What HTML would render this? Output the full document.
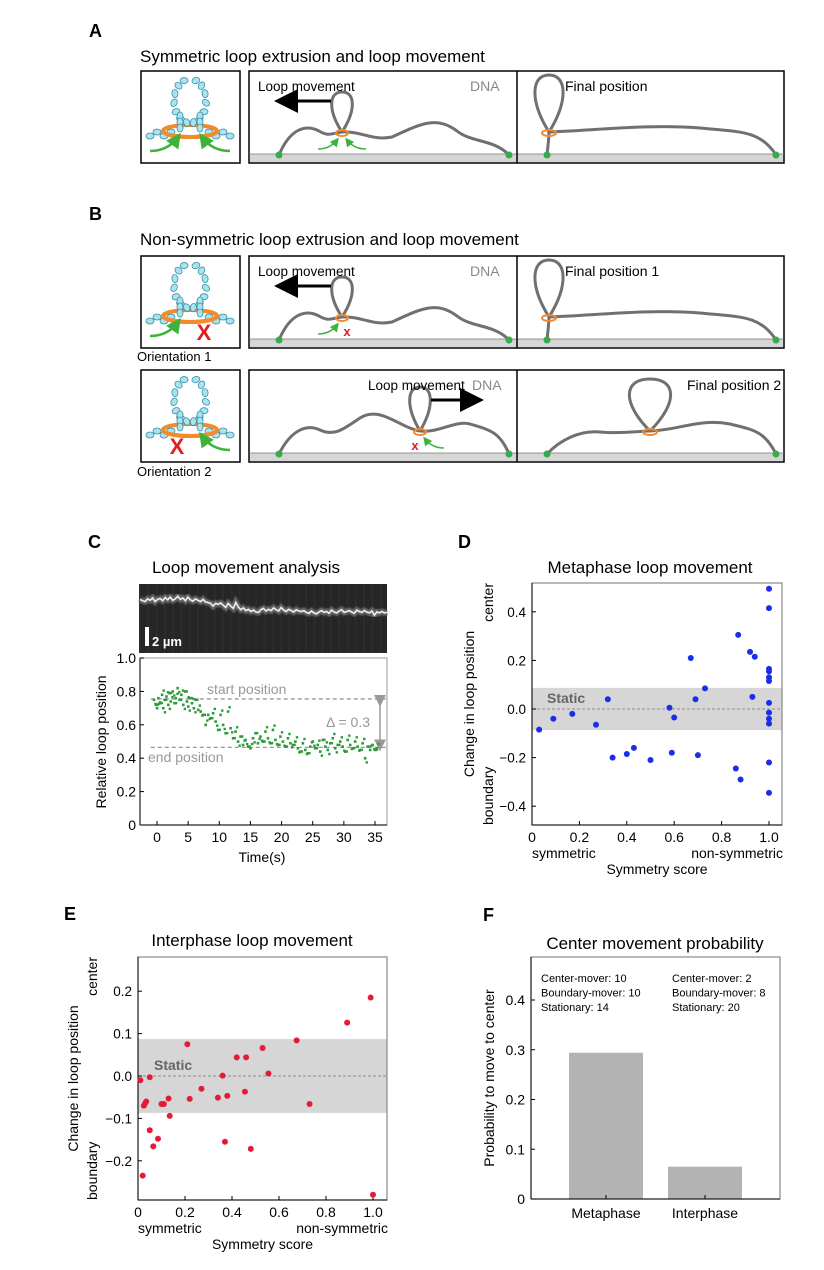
<!DOCTYPE html>
<html><head><meta charset="utf-8"><style>
body{margin:0;background:#fff;}
svg{display:block;font-family:"Liberation Sans",sans-serif;}
</style></head><body>
<svg id="fig" width="824" height="1270" viewBox="0 0 824 1270" xmlns="http://www.w3.org/2000/svg">
<defs>
<filter id="blur1"><feGaussianBlur stdDeviation="0.9"/></filter>
<marker id="ah" markerWidth="8" markerHeight="8" refX="6" refY="4" orient="auto"><path d="M0,0 L8,4 L0,8 z" fill="#000"/></marker>
<marker id="agh" markerWidth="6" markerHeight="6" refX="4" refY="3" orient="auto"><path d="M0,0 L6,3 L0,6 z" fill="#3cb43c"/></marker>
<marker id="agr" markerWidth="8" markerHeight="8" refX="4" refY="4" orient="auto"><path d="M0,0 L8,4 L0,8 z" fill="#999"/></marker>
</defs>
<g id="diagrams"></g>
<g id="panelC"></g>
<g id="panelD"></g>
<g id="panelE"></g>
<g id="panelF"></g>
</svg>
<script>
// ---- Panel C data ----
const cTimes = [-0.5,-0.2,0,0.2,0.5,0.8,1,1.2,1.5,1.8,2,2.2,2.5,2.8,3,3.3,3.6,3.9,4.2,4.5,4.8,5,5.3,5.6,5.9,6.2,6.6,7,7.4,7.8,8.2,8.6,9,9.4,9.8,10.2,10.6,11,11.4,11.8,12.2,12.6,13,13.4,13.8,14.2,14.6,15,15.4,15.8,16.2,16.6,17,17.4,17.8,18.2,18.6,19,19.4,19.8,20.2,20.6,21,21.4,21.8,22.2,22.6,23,23.4,23.8,24.2,24.6,25,25.4,25.8,26.2,26.6,27,27.4,27.8,28.2,28.6,29,29.4,29.8,30.2,30.6,31,31.4,31.8,32.2,32.6,33,33.4,33.8,34.2,34.6,35,35.3];
const cPos = [0.75,0.72,0.70,0.76,0.73,0.78,0.70,0.75,0.77,0.72,0.79,0.74,0.80,0.73,0.76,0.82,0.75,0.78,0.72,0.80,0.74,0.71,0.76,0.73,0.70,0.75,0.69,0.68,0.66,0.60,0.66,0.64,0.67,0.62,0.57,0.66,0.60,0.55,0.68,0.58,0.52,0.56,0.50,0.53,0.48,0.51,0.47,0.46,0.52,0.55,0.49,0.53,0.50,0.56,0.52,0.49,0.57,0.51,0.48,0.53,0.50,0.47,0.52,0.49,0.48,0.50,0.46,0.44,0.49,0.45,0.43,0.47,0.50,0.46,0.48,0.44,0.51,0.47,0.45,0.49,0.52,0.46,0.48,0.50,0.47,0.44,0.51,0.48,0.46,0.50,0.47,0.45,0.49,0.40,0.47,0.45,0.48,0.45,0.46];
const cYTicks = [0,0.2,0.4,0.6,0.8,1.0];
const cYTickLabels = ["0","0.2","0.4","0.6","0.8","1.0"];
const cXTicks = [0,5,10,15,20,25,30,35];
const cStart = 0.755, cEnd = 0.465;
// ---- Panel D data ----
const dScore = [0.03,0.09,0.17,0.27,0.32,0.34,0.40,0.43,0.50,0.58,0.59,0.60,0.67,0.69,0.70,0.73,0.86,0.87,0.88,0.92,0.93,0.94,1,1,1,1,1,1,1,1,1,1,1,1];
const dChange = [-0.085,-0.04,-0.02,-0.065,0.04,-0.2,-0.185,-0.16,-0.21,0.005,-0.18,-0.035,0.21,0.04,-0.19,0.085,-0.245,0.305,-0.29,0.235,0.05,0.215,0.495,0.415,0.165,0.155,0.13,0.115,0.025,-0.015,-0.04,-0.06,-0.22,-0.345];
const dYTicks = [-0.4,-0.2,0,0.2,0.4];
const dYTickLabels = ["\u22120.4","\u22120.2","0.0","0.2","0.4"];
const xTicksSym = [0,0.2,0.4,0.6,0.8,1.0];
const xTickLabelsSym = ["0","0.2","0.4","0.6","0.8","1.0"];
// ---- Panel E data ----
const eScore = [0.01,0.02,0.025,0.03,0.035,0.05,0.05,0.065,0.085,0.10,0.11,0.13,0.135,0.21,0.22,0.27,0.34,0.36,0.37,0.38,0.42,0.455,0.46,0.48,0.53,0.555,0.675,0.73,0.89,0.99,1.0];
const eChange = [-0.01,-0.235,-0.07,-0.065,-0.06,-0.003,-0.128,-0.166,-0.148,-0.066,-0.066,-0.053,-0.094,0.075,-0.054,-0.03,-0.051,0.001,-0.155,-0.047,0.044,-0.037,0.044,-0.172,0.066,0.006,0.084,-0.066,0.126,0.185,-0.28];
const eYTicks = [-0.2,-0.1,0,0.1,0.2];
const eYTickLabels = ["\u22120.2","\u22120.1","0.0","0.1","0.2"];
const staticBand = 0.087;
// ---- Panel F data ----
const fCategories = ["Metaphase","Interphase"];
const fValues = [0.294,0.065];
const fYTicks = [0,0.1,0.2,0.3,0.4];
const fYTickLabels = ["0","0.1","0.2","0.3","0.4"];

const NS="http://www.w3.org/2000/svg";
function mk(parent,tag,attrs,text){const e=document.createElementNS(NS,tag);for(const k in attrs)e.setAttribute(k,attrs[k]);if(text!==undefined)e.textContent=text;parent.appendChild(e);return e;}

// ================= Diagrams =================
const G=document.getElementById('diagrams');
function label(x,y,t,name){const e=mk(G,'text',{x:x,y:y,'font-size':18,'font-weight':'bold'},t);

}
label(89,37,'A','panel-label-a');label(89,220,'B','panel-label-b');
label(88,548,'C','panel-label-c');label(458,548,'D','panel-label-d');
label(64,920,'E','panel-label-e');label(483,921,'F','panel-label-f');
let t1=mk(G,'text',{x:140,y:62,'font-size':17},'Symmetric loop extrusion and loop movement');


let t2=mk(G,'text',{x:140,y:245,'font-size':17},'Non-symmetric loop extrusion and loop movement');



function complex(x,y,blockL,blockR){
  const g=mk(G,'g',{});
  
  
  mk(g,'rect',{x:x,y:y,width:99,height:92,fill:'#fff',stroke:'#000','stroke-width':1.5});
  const cx=x+49,cy=y+38;
  mk(g,'ellipse',{cx:cx,cy:y+60,rx:27,ry:6,fill:'none',stroke:'#f58a2a','stroke-width':4});
  for(let i=0;i<14;i++){const a=Math.PI*0.62+i*(Math.PI*1.76/13);
    const bx=cx+Math.cos(a)*16, by=cy-8+Math.sin(a)*-22;
    mk(g,'ellipse',{cx:bx,cy:by,rx:4,ry:3,fill:'#a8e4ef',stroke:'#3a8fa6','stroke-width':0.8,transform:`rotate(${i*40} ${bx} ${by})`});}
  for(let i=0;i<3;i++){mk(g,'ellipse',{cx:cx-10,cy:y+45+i*6,rx:3,ry:4,fill:'#a8e4ef',stroke:'#3a8fa6','stroke-width':0.8});
    mk(g,'ellipse',{cx:cx+10,cy:y+45+i*6,rx:3,ry:4,fill:'#a8e4ef',stroke:'#3a8fa6','stroke-width':0.8});}
  for(let i=0;i<4;i++){mk(g,'ellipse',{cx:cx-19-i*7,cy:y+62+(i%2?3:-1),rx:4,ry:3,fill:'#a8e4ef',stroke:'#3a8fa6','stroke-width':0.8});
    mk(g,'ellipse',{cx:cx+19+i*7,cy:y+62+(i%2?3:-1),rx:4,ry:3,fill:'#a8e4ef',stroke:'#3a8fa6','stroke-width':0.8});}
  mk(g,'path',{d:`M${cx-27},${y+60} A27,6 0 0 0 ${cx+27},${y+60}`,fill:'none',stroke:'#f58a2a','stroke-width':4});
  if(!blockL) mk(g,'path',{d:`M${cx-40},${y+80} Q${cx-22},${y+80} ${cx-12},${y+66}`,fill:'none',stroke:'#3cb43c','stroke-width':2.5,'marker-end':'url(#agh)'});
  else mk(g,'text',{x:cx-13,y:y+84,'font-size':22,'font-weight':'bold',fill:'#e02020','text-anchor':'middle'},'X');
  if(!blockR) mk(g,'path',{d:`M${cx+40},${y+80} Q${cx+22},${y+80} ${cx+12},${y+66}`,fill:'none',stroke:'#3cb43c','stroke-width':2.5,'marker-end':'url(#agh)'});
  else mk(g,'text',{x:cx+14,y:y+84,'font-size':22,'font-weight':'bold',fill:'#e02020','text-anchor':'middle'},'X');
}
function loopPath(cx,yc,top,w){const m=yc-(yc-top)*0.55;
  return `M${cx},${yc} C${cx-w*1.3},${m} ${cx-w*1.2},${top} ${cx},${top} C${cx+w*1.2},${top} ${cx+w*1.3},${m} ${cx},${yc}`;}
function stage(x,y,o){
  const g=mk(G,'g',{});
  
  
  mk(g,'rect',{x:x,y:y,width:535,height:92,fill:'#fff',stroke:'#000','stroke-width':1.5});
  mk(g,'rect',{x:x+1,y:y+83,width:533,height:8,fill:'#d6d6d6'});
  mk(g,'line',{x1:x,y1:y+83,x2:x+535,y2:y+83,stroke:'#777','stroke-width':0.8});
  mk(g,'line',{x1:x+268,y1:y,x2:x+268,y2:y+92,stroke:'#000','stroke-width':1.5});
  const s={fill:'none',stroke:'#707070','stroke-width':3};
  mk(g,'path',Object.assign({d:o.left},s));
  mk(g,'path',Object.assign({d:loopPath(x+o.lx,y+61,y+o.ltop,o.lw)},s));
  mk(g,'ellipse',{cx:x+o.lx,cy:y+62,rx:6,ry:3,fill:'none',stroke:'#f58a2a','stroke-width':2});
  mk(g,'path',Object.assign({d:o.right},s));
  mk(g,'path',Object.assign({d:loopPath(x+o.rx,y+o.rcy,y+o.rtop,o.rw)},s));
  mk(g,'ellipse',{cx:x+o.rx,cy:y+o.rcy+1,rx:7,ry:3,fill:'none',stroke:'#f58a2a','stroke-width':2});
  [[x+30,y+84],[x+260,y+84],[x+298,y+84],[x+527,y+84]].forEach(p=>mk(g,'circle',{cx:p[0],cy:p[1],r:3.5,fill:'#2fae4a'}));
  mk(g,'text',{x:x+o.tx,y:y+20,'font-size':13.5},'Loop movement');
  mk(g,'line',{x1:x+o.a1,y1:y+30,x2:x+o.a2,y2:y+30,stroke:'#000','stroke-width':3,'marker-end':'url(#ah)'});
  mk(g,'text',{x:x+o.dx,y:y+20,'font-size':14,fill:'#888'},'DNA');
  mk(g,'text',{x:x+o.fx,y:y+20,'font-size':14},o.ftext);
  const lx=x+o.lx;
  if(o.gl) mk(g,'path',{d:`M${lx-24},${y+78} Q${lx-12},${y+78} ${lx-5},${y+69}`,fill:'none',stroke:'#3cb43c','stroke-width':1.5,'marker-end':'url(#agh)'});
  if(o.gr) mk(g,'path',{d:`M${lx+24},${y+78} Q${lx+12},${y+78} ${lx+5},${y+69}`,fill:'none',stroke:'#3cb43c','stroke-width':1.5,'marker-end':'url(#agh)'});
  if(o.xl) mk(g,'text',{x:lx-5,y:y+80,'font-size':13,'font-weight':'bold',fill:'#e02020','text-anchor':'middle'},'x');
  if(o.xr) mk(g,'text',{x:lx+5,y:y+80,'font-size':13,'font-weight':'bold',fill:'#e02020','text-anchor':'middle'},'x');
}
function rowGeom(x,y,lx,ltop,rx,rtop,rw){
  return {
    left:`M${x+30},${y+84} C${x+40},${y+60} ${x+55},${y+52} ${x+70},${y+60} C${x+80},${y+66} ${x+lx-10},${y+62} ${x+lx},${y+61} C${x+lx+20},${y+60} ${x+lx+30},${y+70} ${x+lx+50},${y+66} C${x+lx+80},${y+52} ${x+lx+95},${y+45} ${x+lx+115},${y+60} C${x+lx+130},${y+72} ${x+245},${y+68} ${x+260},${y+84}`,
    lx:lx,ltop:ltop,lw:11,rx:rx,rcy:61,rtop:rtop,rw:rw};
}
complex(141,71,false,false);
stage(249,71,Object.assign(rowGeom(249,71,93,21,300,4,15),{right:`M547,155 C548,145 549,138 549,132 C600,130 650,124 700,128 C740,132 760,130 776,155`,rx:300,tx:9,a1:82,a2:31,dx:221,fx:316,ftext:'Final position',gl:true,gr:true}));
complex(141,256,false,true);
let on1=mk(G,'text',{x:137,y:361,'font-size':13},'Orientation 1');


stage(249,256,Object.assign(rowGeom(249,256,93,21,300,4,15),{right:`M547,340 C548,330 549,323 549,317 C600,315 650,309 700,313 C740,317 760,315 776,340`,rx:300,tx:9,a1:82,a2:31,dx:221,fx:316,ftext:'Final position 1',gl:true,xr:true}));
complex(141,370,true,false);
let on2=mk(G,'text',{x:137,y:476,'font-size':13},'Orientation 2');


stage(249,370,{left:`M279,454 C290,432 305,423 320,430 C335,437 345,428 360,418 C380,405 400,428 420,431 C440,433 455,420 470,424 C490,430 500,432 509,454`,right:`M547,454 C560,440 580,430 600,432 C620,434 640,431 650,431 C680,430 700,418 730,424 C755,430 765,432 776,454`,lx:171,ltop:17,lw:11,rx:401,rcy:61,rtop:9,rw:22,tx:119,a1:182,a2:229,dx:223,fx:438,ftext:'Final position 2',xl:true,gr:true});

// ================= Panel C =================
(function(){
const P=document.getElementById('panelC');
const x0=140,x1=387,y0=658,y1=825;
const X=t=>157+(t/35)*(375-157), Y=v=>825-v*(825-658);
let tt=mk(P,'text',{x:246,y:573,'font-size':17,'text-anchor':'middle'},'Loop movement analysis');


const k=mk(P,'g',{});


mk(k,'rect',{x:140,y:584,width:247,height:69,fill:'#262626'});
for(let i=0;i<30;i++){mk(k,'line',{x1:140+i*8.3,y1:584,x2:140+i*8.3,y2:653,stroke:'#2c2c2c','stroke-width':2});}
let kp='';for(let i=0;i<cTimes.length;i++){const px=140+(i/(cTimes.length-1))*247;const py=598+(0.78-cPos[i])*45;kp+=(i?'L':'M')+px.toFixed(1)+','+py.toFixed(1);}
mk(k,'path',{d:kp,fill:'none',stroke:'#666','stroke-width':6,filter:'url(#blur1)'});
mk(k,'path',{d:kp,fill:'none',stroke:'#eee','stroke-width':1.6});
mk(k,'rect',{x:145,y:627,width:4,height:19,fill:'#fff'});
mk(k,'text',{x:152,y:646,'font-size':13,'font-weight':'bold',fill:'#fff'},'2 µm');
const box=mk(P,'rect',{x:x0,y:y0,width:x1-x0,height:y1-y0,fill:'none',stroke:'#aaa','stroke-width':1.2});


mk(P,'line',{x1:x0,y1:y0,x2:x0,y2:y1,stroke:'#000','stroke-width':1});
mk(P,'line',{x1:x0,y1:y1,x2:x1,y2:y1,stroke:'#000','stroke-width':1});
cYTicks.forEach((v,i)=>{mk(P,'line',{x1:x0,y1:Y(v),x2:x0+4,y2:Y(v),stroke:'#000'});
  const l=mk(P,'text',{x:x0-4,y:Y(v)+5,'font-size':14,'text-anchor':'end'},cYTickLabels[i]);
  
  });
cXTicks.forEach(v=>{mk(P,'line',{x1:X(v),y1:y1,x2:X(v),y2:y1-4,stroke:'#000'});
  const l=mk(P,'text',{x:X(v),y:y1+17,'font-size':14,'text-anchor':'middle'},String(v));
  
  });
let xl=mk(P,'text',{x:262,y:862,'font-size':14,'text-anchor':'middle'},'Time(s)');


let yl=mk(P,'text',{x:0,y:0,'font-size':14,'text-anchor':'middle',transform:'translate(106,742) rotate(-90)'},'Relative loop position');


mk(P,'line',{x1:X(-1),y1:Y(cStart),x2:x1,y2:Y(cStart),stroke:'#999','stroke-dasharray':'4,3','stroke-width':1.3});
mk(P,'line',{x1:X(-1),y1:Y(cEnd),x2:x1,y2:Y(cEnd),stroke:'#999','stroke-dasharray':'4,3','stroke-width':1.3});
mk(P,'text',{x:207,y:694,'font-size':14,fill:'#999'},'start position');
mk(P,'text',{x:148,y:762,'font-size':14,fill:'#999'},'end position');
mk(P,'text',{x:326,y:727,'font-size':14,fill:'#999'},'Δ = 0.3');
mk(P,'line',{x1:380,y1:Y(cStart)+2,x2:380,y2:Y(cEnd)-2,stroke:'#999','stroke-width':1.5,'marker-end':'url(#agr)','marker-start':'url(#agr)'});
cTimes.forEach((t,i)=>{const r=mk(P,'rect',{x:X(t)-1.2,y:Y(cPos[i])-1.2,width:2.6,height:2.6,fill:'#2e9a3a'});
  
  
  const r2=mk(P,'rect',{x:X(t)+0.5,y:Y(cPos[i]+((i%3)-1)*0.025)-1.2,width:2.4,height:2.4,fill:'#2e9a3a'});
  
  });
})();

// ================= Scatter panels D, E =================
function scatter(P,cfg){
  const X=s=>cfg.xl+s*(cfg.x1v-cfg.xl), Y=v=>cfg.y0v-v*cfg.pp;
  const t=mk(P,'text',{x:cfg.tx,y:cfg.ty,'font-size':17,'text-anchor':'middle'},cfg.title);
  
  
  mk(P,'rect',{x:cfg.xl,y:Y(cfg.band),width:cfg.xr-cfg.xl,height:Y(-cfg.band)-Y(cfg.band),fill:'#d6d6d6'});
  mk(P,'line',{x1:cfg.xl,y1:Y(0),x2:cfg.xr,y2:Y(0),stroke:'#777','stroke-dasharray':'3,2','stroke-width':0.8});
  mk(P,'text',{x:cfg.stx,y:Y(0)-cfg.sty,'font-size':14,'font-weight':'bold',fill:'#666'},'Static');
  const b=mk(P,'rect',{x:cfg.xl,y:cfg.yt,width:cfg.xr-cfg.xl,height:cfg.yb-cfg.yt,fill:'none',stroke:'#888','stroke-width':1.2});
  
  
  mk(P,'line',{x1:cfg.xl,y1:cfg.yt,x2:cfg.xl,y2:cfg.yb,stroke:'#000'});
  mk(P,'line',{x1:cfg.xl,y1:cfg.yb,x2:cfg.xr,y2:cfg.yb,stroke:'#000'});
  cfg.yTicks.forEach((v,i)=>{mk(P,'line',{x1:cfg.xl,y1:Y(v),x2:cfg.xl+4,y2:Y(v),stroke:'#000'});
    const l=mk(P,'text',{x:cfg.xl-6,y:Y(v)+5,'font-size':13.5,'text-anchor':'end'},cfg.yLabels[i]);
    
    });
  xTicksSym.forEach((v,i)=>{mk(P,'line',{x1:X(v),y1:cfg.yb,x2:X(v),y2:cfg.yb-4,stroke:'#000'});
    const l=mk(P,'text',{x:X(v),y:cfg.yb+17,'font-size':14,'text-anchor':'middle'},xTickLabelsSym[i]);
    
    });
  mk(P,'text',{x:cfg.xl,y:cfg.yb+33,'font-size':14},'symmetric');
  mk(P,'text',{x:cfg.xr+1,y:cfg.yb+33,'font-size':14,'text-anchor':'end'},'non-symmetric');
  const xt=mk(P,'text',{x:(cfg.xl+cfg.xr)/2,y:cfg.yb+49,'font-size':14,'text-anchor':'middle'},'Symmetry score');
  
  
  const cy=(cfg.yt+cfg.yb)/2;
  const yt=mk(P,'text',{x:0,y:0,'font-size':14,'text-anchor':'middle',transform:`translate(${cfg.xl-cfg.ylo},${cy}) rotate(-90)`},'Change in loop position');
  
  
  mk(P,'text',{x:0,y:0,'font-size':14,'text-anchor':'end',transform:`translate(${cfg.xl-cfg.ylo+19},${cfg.yt}) rotate(-90)`},'center');
  mk(P,'text',{x:0,y:0,'font-size':14,'text-anchor':'start',transform:`translate(${cfg.xl-cfg.ylo+19},${cfg.yb}) rotate(-90)`},'boundary');
  cfg.xs.forEach((s,i)=>{const c=mk(P,'circle',{cx:X(s),cy:Y(cfg.ys[i]),r:3,fill:cfg.color});
    
    });
}
scatter(document.getElementById('panelD'),{id:'d',title:'Metaphase loop movement',tx:650,ty:573,xl:532,xr:782,x1v:769,yt:583,yb:825,y0v:709,pp:243,band:staticBand,stx:547,sty:6,yTicks:dYTicks,yLabels:dYTickLabels,xs:dScore,ys:dChange,color:'#1a2ee8',ylo:58});
scatter(document.getElementById('panelE'),{id:'e',title:'Interphase loop movement',tx:252,ty:946,xl:138,xr:387,x1v:373,yt:957,yb:1200,y0v:1076,pp:424,band:staticBand,stx:154,sty:6,yTicks:eYTicks,yLabels:eYTickLabels,xs:eScore,ys:eChange,color:'#e31c36',ylo:60});

// ================= Panel F =================
(function(){
const P=document.getElementById('panelF');
const xl=531,xr=780,yt=957,yb=1199,pp=497.5;
const Y=v=>yb-v*pp;
const bx=[569,668],bw=74;
const t=mk(P,'text',{x:655,y:949,'font-size':17,'text-anchor':'middle'},'Center movement probability');


fValues.forEach((v,i)=>{const r=mk(P,'rect',{x:bx[i],y:Y(v),width:bw,height:yb-Y(v),fill:'#b3b3b3'});
  
  
  mk(P,'line',{x1:bx[i]+bw/2,y1:yb,x2:bx[i]+bw/2,y2:yb-4,stroke:'#000'});
  const l=mk(P,'text',{x:bx[i]+bw/2,y:yb+19,'font-size':14,'text-anchor':'middle'},fCategories[i]);
  
  });
mk(P,'rect',{x:xl,y:yt,width:xr-xl,height:yb-yt,fill:'none',stroke:'#888','stroke-width':1.2});
mk(P,'line',{x1:xl,y1:yt,x2:xl,y2:yb,stroke:'#000'});
mk(P,'line',{x1:xl,y1:yb,x2:xr,y2:yb,stroke:'#000'});
fYTicks.forEach((v,i)=>{mk(P,'line',{x1:xl,y1:Y(v),x2:xl+4,y2:Y(v),stroke:'#000'});
  const l=mk(P,'text',{x:xl-6,y:Y(v)+5,'font-size':14,'text-anchor':'end'},fYTickLabels[i]);
  
  });
const yl=mk(P,'text',{x:0,y:0,'font-size':14,'text-anchor':'middle',transform:'translate(494,1078) rotate(-90)'},'Probability to move to center');


[['Center-mover: 10','Boundary-mover: 10','Stationary: 14',541],['Center-mover: 2','Boundary-mover: 8','Stationary: 20',672]].forEach(a=>{
  for(let j=0;j<3;j++){const e=mk(P,'text',{x:a[3],y:982+j*14.5,'font-size':11},a[j]);
  
  }});
})();
</script>
</body></html>
